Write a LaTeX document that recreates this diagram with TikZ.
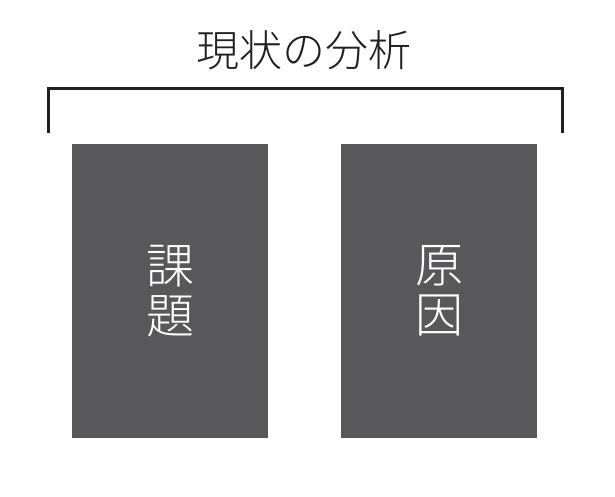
\documentclass[tikz,border=0pt]{standalone}
\usepackage{fontspec}
\newfontfamily\cjk{Noto Sans CJK JP}[UprightFont=* Light]
\definecolor{boxgray}{HTML}{58585A}
\definecolor{linegray}{HTML}{231F20}
\tikzset{
    box/.style={fill=boxgray, inner sep=0pt, minimum width=196pt, minimum height=294pt, anchor=north west},
    boxtext/.style={text=white, align=center, font=\cjk\fontsize{48}{50}\selectfont},
}
\begin{document}
\begin{tikzpicture}[x=1pt, y=-1pt]

    \useasboundingbox (0,0) rectangle (615,497);

    \node[font=\cjk\fontsize{43}{43}\selectfont, text=linegray] (title) at (304,50) {現状の分析};

    \draw[linegray, line width=3pt] (48,133) -- (48,89) -- (562,89) -- (562,133);

    \node[box] (kadai) at (72,144) {};
    \node[box] (gen) at (341,144) {};

    \node[boxtext] (kadaitext) at (kadai.center) {課\\題};
    \node[boxtext] (gentext) at (gen.center) {原\\因};

\end{tikzpicture}
\end{document}
